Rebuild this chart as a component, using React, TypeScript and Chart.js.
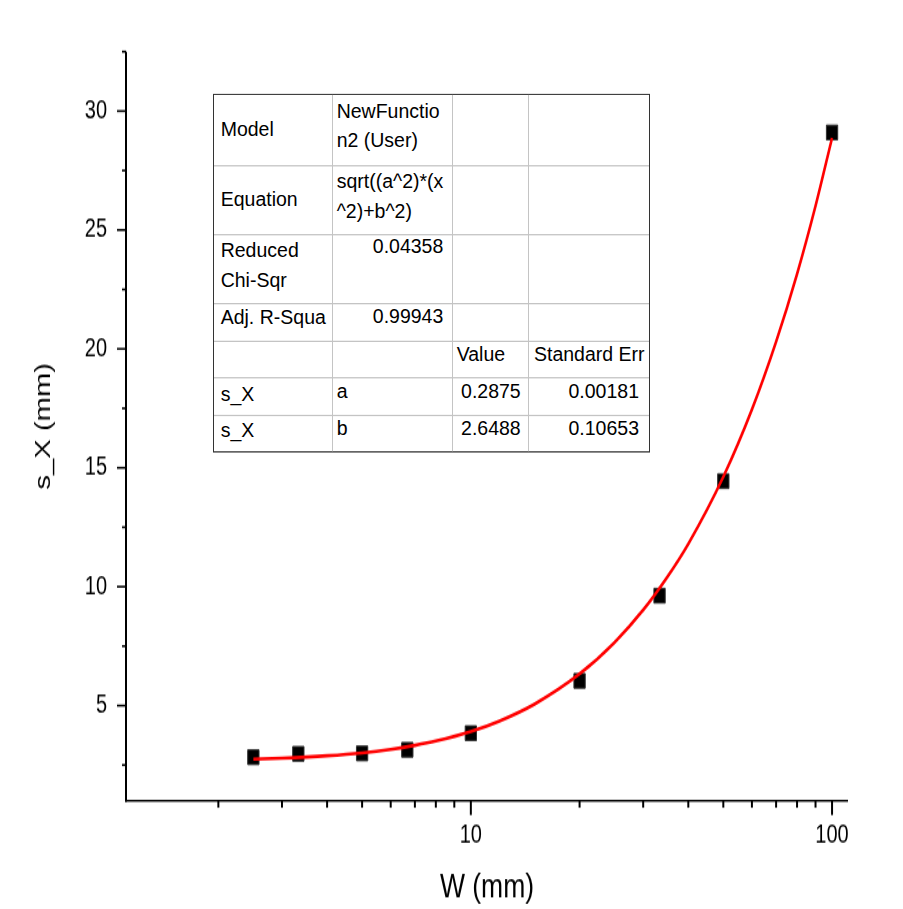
import React, { useEffect, useRef } from "react";
import { Chart, registerables } from "chart.js";

Chart.register(...registerables);

// ---- data ----
const X_VALUES = [2.5, 3.33, 5, 6.67, 10, 20, 33.3, 50, 100];
const Y_VALUES = [2.83, 2.97, 2.99, 3.14, 3.84, 6.04, 9.62, 14.44, 29.1];
const FIT_X = [2.5, 3, 4, 5, 6, 7, 8, 10, 12, 15, 20, 25, 30, 35, 40, 50, 60, 70, 80, 90, 100];
const FIT_Y = [2.75, 2.79, 2.89, 3.01, 3.16, 3.33, 3.51, 3.91, 4.35, 5.06, 6.33, 7.66, 9.02, 10.41, 11.8, 14.62, 17.45, 20.3, 23.15, 26.01, 28.87];

const Y_TICKS = [2.5, 5, 7.5, 10, 12.5, 15, 17.5, 20, 22.5, 25, 27.5, 30, 32.5];
const Y_LABELLED = [5, 10, 15, 20, 25, 30];
const X_MAJOR = [10, 100];
const X_MINOR = [2, 3, 4, 5, 6, 7, 8, 9, 20, 30, 40, 50, 60, 70, 80, 90];
const X_TITLE = "W (mm)";
const Y_TITLE = "s_X (mm)";

const TABLE_COL1 = ["Model", "Equation", "Reduced\nChi-Sqr", "Adj. R-Squa", "", "s_X", "s_X"];
const TABLE_COL2 = ["NewFunctio\nn2 (User)", "sqrt((a^2)*(x\n^2)+b^2)", "0.04358", "0.99943", "", "a", "b"];
const TABLE_COL3 = ["", "", "", "", "Value", "0.2875", "2.6488"];
const TABLE_COL4 = ["", "", "", "", "Standard Err", "0.00181", "0.10653"];

const FONT = "'Liberation Sans', Arial, sans-serif";
const W = 903;
const H = 699; // drawn height, stretched vertically by 1.3 to 909
const STRETCH = 909 / 699;

const tickPlugin = {
  id: "customAxes",
  afterDraw(chart: any) {
    const ctx = chart.ctx;
    const xs = chart.scales.x;
    const ys = chart.scales.y;
    const area = chart.chartArea;
    ctx.save();
    ctx.strokeStyle = "#000";
    // axis lines
    ctx.lineWidth = 2;
    ctx.beginPath();
    ctx.moveTo(area.left, area.top);
    ctx.lineTo(area.left, area.bottom + 0.8);
    ctx.stroke();
    ctx.lineWidth = 1.6;
    ctx.beginPath();
    ctx.moveTo(area.left - 1, area.bottom);
    ctx.lineTo(area.right, area.bottom);
    ctx.stroke();
    // y ticks
    ctx.lineWidth = 1.6;
    Y_TICKS.forEach((v) => {
      const y = ys.getPixelForValue(v);
      const len = Y_LABELLED.includes(v) ? 9 : 4;
      ctx.beginPath();
      ctx.moveTo(area.left, y);
      ctx.lineTo(area.left - len, y);
      ctx.stroke();
    });
    // x ticks
    ctx.lineWidth = 2;
    const drawX = (v: number, len: number) => {
      const x = xs.getPixelForValue(v);
      ctx.beginPath();
      ctx.moveTo(x, area.bottom);
      ctx.lineTo(x, area.bottom + len);
      ctx.stroke();
    };
    X_MINOR.forEach((v) => drawX(v, 5.4));
    X_MAJOR.forEach((v) => drawX(v, 11));
    ctx.restore();
  },
};

const textBase: React.CSSProperties = {
  position: "absolute",
  fontFamily: FONT,
  fontSize: "19.5px",
  lineHeight: "27.6px",
  color: "#000",
  whiteSpace: "pre",
  transformOrigin: "0 0",
};

function Cell(props: { text: string; x: number; y: number; right?: boolean }) {
  if (!props.text) return null;
  return (
    <div
      style={{
        ...textBase,
        left: props.x,
        top: props.y,
        transform: props.right ? "translateX(-100%) scaleY(0.82)" : "scaleY(0.82)",
        textAlign: props.right ? "right" : "left",
      }}
    >
      {props.text}
    </div>
  );
}

const COL_X = [214, 332.3, 451.7, 528.3, 649];
const ROW_Y = [73.1, 126.9, 179.5, 232.5, 262.1, 290.2, 319.2, 347.5];

function FitTable() {
  const c1Top = [88.2, 141.5, 180.5, 233.1, 0, 291.5, 320.2];
  const cTop = [74.1, 127.7, 178.4, 231.5, 261.3, 289.5, 317.6];
  const lines: React.ReactNode[] = [];
  COL_X.slice(1, -1).forEach((x, i) =>
    lines.push(
      <div key={"v" + i} style={{ position: "absolute", left: x, top: ROW_Y[0], width: 1, height: ROW_Y[7] - ROW_Y[0], background: "#c4c4c4" }} />
    )
  );
  ROW_Y.slice(1, -1).forEach((y, i) =>
    lines.push(
      <div key={"h" + i} style={{ position: "absolute", left: COL_X[0], top: y, width: COL_X[4] - COL_X[0], height: 1, background: "#c4c4c4" }} />
    )
  );
  const cells: React.ReactNode[] = [];
  for (let r = 0; r < 7; r++) {
    cells.push(<Cell key={"a" + r} text={TABLE_COL1[r]} x={220.7} y={c1Top[r]} />);
    const rightNum = r === 2 || r === 3;
    cells.push(<Cell key={"b" + r} text={TABLE_COL2[r]} x={rightNum ? 443.3 : 336.7} y={cTop[r]} right={rightNum} />);
    cells.push(<Cell key={"c" + r} text={TABLE_COL3[r]} x={r === 4 ? 456.7 : 520.7} y={cTop[r]} right={r !== 4} />);
    cells.push(<Cell key={"d" + r} text={TABLE_COL4[r]} x={r === 4 ? 534 : 639} y={cTop[r]} right={r !== 4} />);
  }
  return (
    <>
      <div
        style={{
          position: "absolute",
          left: COL_X[0] - 1,
          top: ROW_Y[0] - 1,
          width: COL_X[4] - COL_X[0],
          height: ROW_Y[7] - ROW_Y[0],
          border: "1.5px solid #333",
          background: "#fff",
        }}
      />
      {lines}
      {cells}
    </>
  );
}

export default function App() {
  const ref = useRef<HTMLCanvasElement>(null);

  useEffect(() => {
    if (!ref.current) return;
    const points = X_VALUES.map((x, i) => ({ x, y: Y_VALUES[i] }));
    const fit = FIT_X.map((x, i) => ({ x, y: FIT_Y[i] }));
    const chart = new Chart(ref.current, {
      type: "scatter",
      data: {
        datasets: [
          {
            label: "fit",
            data: fit,
            showLine: true,
            borderColor: "#ff0000",
            borderWidth: 2.6,
            pointRadius: 0,
            cubicInterpolationMode: "monotone",
            order: 0,
          } as any,
          {
            label: "s_X",
            data: points,
            pointStyle: "rect",
            pointRadius: 8,
            backgroundColor: "#000",
            borderColor: "#333",
            borderWidth: 1,
            order: 1,
          } as any,
        ],
      },
      options: {
        animation: false,
        responsive: false,
        devicePixelRatio: 1,
        layout: { padding: { left: 0, right: 55, top: 39.7, bottom: 0 } },
        plugins: { legend: { display: false }, tooltip: { enabled: false } },
        scales: {
          x: {
            type: "logarithmic",
            min: 1.11,
            max: 110.7,
            bounds: "data",
            grid: { display: false, drawTicks: false, tickLength: 0 },
            border: { display: false },
            afterBuildTicks: (s: any) => {
              s.ticks = X_MAJOR.map((v) => ({ value: v, major: true }));
            },
            afterFit: (s: any) => {
              s.height = 83.3;
            },
            ticks: {
              autoSkip: false,
              maxRotation: 0,
              padding: 15,
              color: "#000",
              font: { family: FONT, size: 20 },
              callback: (v: any) => String(v),
            },
            title: {
              display: true,
              text: X_TITLE,
              color: "#000",
              font: { family: FONT, size: 26.5 },
              padding: { top: 0, bottom: 0 },
            },
          },
          y: {
            type: "linear",
            min: 1,
            max: 32.5,
            bounds: "data",
            grid: { display: false, drawTicks: false, tickLength: 0 },
            border: { display: false },
            afterBuildTicks: (s: any) => {
              s.ticks = Y_TICKS.map((v) => ({ value: v }));
            },
            afterFit: (s: any) => {
              s.width = 126;
            },
            ticks: {
              autoSkip: false,
              padding: 19,
              color: "#000",
              font: { family: FONT, size: 20 },
              callback: (v: any) => (Y_LABELLED.includes(Number(v)) ? String(v) : ""),
            },
            title: {
              display: true,
              text: Y_TITLE,
              color: "#000",
              font: { family: FONT, size: 22.5 },
              padding: { top: 30.5, bottom: 0 },
            },
          },
        },
      } as any,
      plugins: [tickPlugin],
    });
    return () => chart.destroy();
  }, []);

  return (
    <div
      style={{
        position: "absolute",
        left: 0,
        top: 0,
        width: W,
        height: H,
        transform: `scaleY(${STRETCH})`,
        transformOrigin: "0 0",
        background: "#fff",
        overflow: "hidden",
      }}
    >
      <canvas ref={ref} width={W} height={H} style={{ display: "block", width: W, height: H }} />
      <FitTable />
    </div>
  );
}
